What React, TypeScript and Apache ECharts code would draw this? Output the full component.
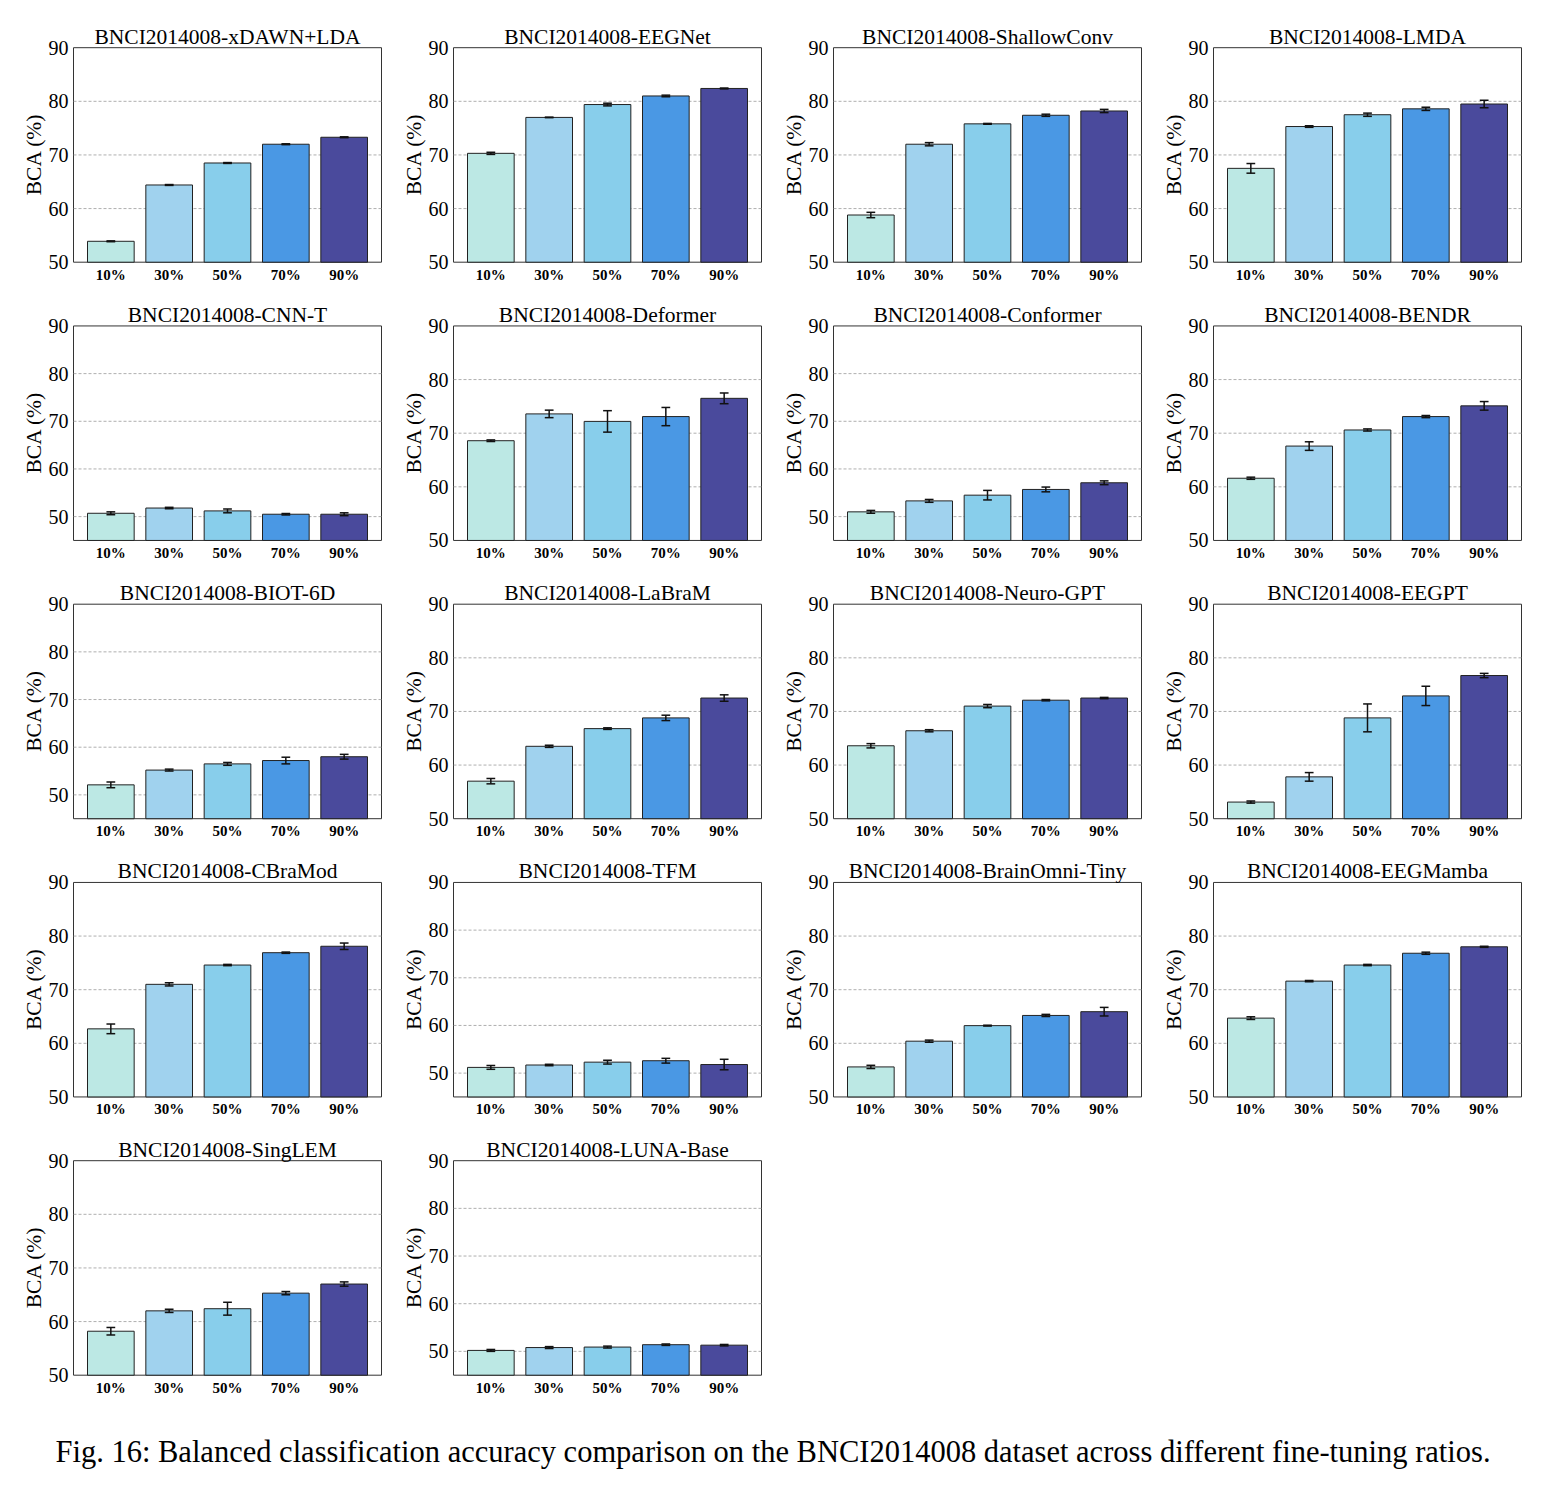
import React, { useEffect, useRef } from "react";
import * as echarts from "echarts";

const CATS = ["10%", "30%", "50%", "70%", "90%"];
const COLORS = ["#bce8e4", "#a0d2ee", "#88ceeb", "#4a98e4", "#4a4a9c"];
const Y_TICKS = [50, 60, 70, 80, 90];
const GRID_LINES = [50, 60, 70, 80];

const TITLES = [
  "BNCI2014008-xDAWN+LDA", "BNCI2014008-EEGNet", "BNCI2014008-ShallowConv", "BNCI2014008-LMDA",
  "BNCI2014008-CNN-T", "BNCI2014008-Deformer", "BNCI2014008-Conformer", "BNCI2014008-BENDR",
  "BNCI2014008-BIOT-6D", "BNCI2014008-LaBraM", "BNCI2014008-Neuro-GPT", "BNCI2014008-EEGPT",
  "BNCI2014008-CBraMod", "BNCI2014008-TFM", "BNCI2014008-BrainOmni-Tiny", "BNCI2014008-EEGMamba",
  "BNCI2014008-SingLEM", "BNCI2014008-LUNA-Base",
];
const Y_MINS = [50, 50, 50, 50, 45, 50, 45, 50, 45, 50, 50, 50, 50, 45, 50, 50, 50, 45];

const xdawnMean = [53.9, 64.4, 68.5, 72.0, 73.3];
const xdawnErr = [0.08, 0.08, 0.08, 0.08, 0.08];
const eegnetMean = [70.3, 77.0, 79.4, 81.0, 82.4];
const eegnetErr = [0.2, 0.05, 0.25, 0.15, 0.08];
const shallowMean = [58.8, 72.0, 75.8, 77.4, 78.2];
const shallowErr = [0.5, 0.3, 0.08, 0.2, 0.3];
const lmdaMean = [67.5, 75.3, 77.5, 78.6, 79.5];
const lmdaErr = [0.9, 0.15, 0.3, 0.3, 0.7];
const cnntMean = [50.7, 51.8, 51.2, 50.5, 50.5];
const cnntErr = [0.3, 0.15, 0.4, 0.15, 0.3];
const deformerMean = [68.6, 73.6, 72.2, 73.1, 76.5];
const deformerErr = [0.15, 0.7, 2.0, 1.7, 1.0];
const conformerMean = [51.0, 53.3, 54.5, 55.7, 57.1];
const conformerErr = [0.3, 0.3, 1.0, 0.5, 0.4];
const bendrMean = [61.6, 67.6, 70.6, 73.1, 75.1];
const bendrErr = [0.2, 0.8, 0.2, 0.2, 0.8];
const biotMean = [52.1, 55.2, 56.5, 57.2, 58.0];
const biotErr = [0.6, 0.2, 0.3, 0.7, 0.5];
const labramMean = [57.0, 63.5, 66.8, 68.8, 72.5];
const labramErr = [0.5, 0.2, 0.15, 0.5, 0.6];
const neurogptMean = [63.6, 66.4, 71.0, 72.1, 72.5];
const neurogptErr = [0.4, 0.2, 0.3, 0.12, 0.12];
const eegptMean = [53.1, 57.8, 68.8, 72.9, 76.7];
const eegptErr = [0.2, 0.8, 2.6, 1.8, 0.4];
const cbramodMean = [62.7, 71.0, 74.6, 76.9, 78.1];
const cbramodErr = [0.9, 0.3, 0.12, 0.12, 0.6];
const tfmMean = [51.2, 51.7, 52.3, 52.6, 51.8];
const tfmErr = [0.4, 0.15, 0.4, 0.5, 1.1];
const brainomniMean = [55.6, 60.4, 63.3, 65.2, 65.9];
const brainomniErr = [0.3, 0.2, 0.08, 0.2, 0.8];
const eegmambaMean = [64.7, 71.6, 74.6, 76.8, 78.0];
const eegmambaErr = [0.25, 0.12, 0.12, 0.2, 0.1];
const singlemMean = [58.2, 62.0, 62.4, 65.3, 67.0];
const singlemErr = [0.7, 0.3, 1.2, 0.3, 0.4];
const lunaMean = [50.2, 50.8, 50.9, 51.4, 51.3];
const lunaErr = [0.2, 0.2, 0.2, 0.15, 0.15];

const MEANS = [
  xdawnMean, eegnetMean, shallowMean, lmdaMean,
  cnntMean, deformerMean, conformerMean, bendrMean,
  biotMean, labramMean, neurogptMean, eegptMean,
  cbramodMean, tfmMean, brainomniMean, eegmambaMean,
  singlemMean, lunaMean,
];
const ERRS = [
  xdawnErr, eegnetErr, shallowErr, lmdaErr,
  cnntErr, deformerErr, conformerErr, bendrErr,
  biotErr, labramErr, neurogptErr, eegptErr,
  cbramodErr, tfmErr, brainomniErr, eegmambaErr,
  singlemErr, lunaErr,
];

const CAPTION =
  "Fig. 16: Balanced classification accuracy comparison on the BNCI2014008 dataset across different fine-tuning ratios.";

const FONT = "'Liberation Serif', 'DejaVu Serif', serif";

const X_MIN = -0.64;
const X_MAX = 4.64;
const BAR_HALF = 0.4;
const CAP_HALF = 0.075;

const W = 1545;
const H = 1485;
const LEFT0 = 73.5;
const TOP0 = 47.7;
const COL_STEP = 380;
const ROW_STEP = 278.25;
const PW = 308;
const PH = 214.5;

export default function App() {
  const ref = useRef<HTMLDivElement>(null);
  useEffect(() => {
    if (!ref.current) return;
    const chart = echarts.init(ref.current, null, { renderer: "svg" });
    const grids: any[] = [];
    const xAxes: any[] = [];
    const yAxes: any[] = [];
    const series: any[] = [];
    const graphics: any[] = [];

    TITLES.forEach((title, k) => {
      const col = k % 4;
      const row = Math.floor(k / 4);
      const left = LEFT0 + col * COL_STEP;
      const top = TOP0 + row * ROW_STEP;
      const ymin = Y_MINS[k];
      grids.push({
        left, top, width: PW, height: PH,
        show: true, borderColor: "#333", borderWidth: 1, backgroundColor: "#fff",
      });
      xAxes.push({
        type: "value", gridIndex: k, min: X_MIN, max: X_MAX,
        axisLine: { show: false }, axisTick: { show: false }, splitLine: { show: false },
        axisLabel: {
          customValues: [0, 1, 2, 3, 4],
          formatter: (v: number) => CATS[Math.round(v)] ?? "",
          fontFamily: FONT, fontWeight: "bold", fontSize: 15, color: "#000", margin: 5,
        },
      });
      yAxes.push({
        type: "value", gridIndex: k, min: ymin, max: 90,
        axisLine: { show: false }, axisTick: { show: false }, splitLine: { show: false },
        axisLabel: {
          customValues: Y_TICKS, fontFamily: FONT, fontSize: 20, color: "#000", margin: 5,
        },
        name: "BCA (%)", nameLocation: "middle", nameGap: 29,
        nameTextStyle: { fontFamily: FONT, fontSize: 21.5, color: "#000" },
      });
      const means = MEANS[k];
      const errs = ERRS[k];
      series.push({
        type: "custom", xAxisIndex: k, yAxisIndex: k, silent: true, clip: false,
        data: means.map((m, i) => [i, m, errs[i]]),
        renderItem: (params: any, api: any) => {
          const i = api.value(0);
          const m = api.value(1);
          const e = api.value(2);
          const children: any[] = [];
          if (params.dataIndex === 0) {
            GRID_LINES.forEach((g) => {
              if (g <= ymin) return;
              const p1 = api.coord([X_MIN, g]);
              const p2 = api.coord([X_MAX, g]);
              children.push({
                type: "line",
                shape: { x1: p1[0], y1: p1[1], x2: p2[0], y2: p2[1] },
                style: { stroke: "#9a9a9a", lineWidth: 0.8, lineDash: [3, 2] },
              });
            });
          }
          const tl = api.coord([i - BAR_HALF, m]);
          const br = api.coord([i + BAR_HALF, ymin]);
          children.push({
            type: "rect",
            shape: { x: tl[0], y: tl[1], width: br[0] - tl[0], height: br[1] - tl[1] },
            style: { fill: COLORS[i], stroke: "#222", lineWidth: 1 },
          });
          const c = api.coord([i, m]);
          const lo = api.coord([i, m - e]);
          const hi = api.coord([i, m + e]);
          const cl = api.coord([i - CAP_HALF, m]);
          const cr = api.coord([i + CAP_HALF, m]);
          children.push({
            type: "line",
            shape: { x1: c[0], y1: lo[1], x2: c[0], y2: hi[1] },
            style: { stroke: "#111", lineWidth: 1.5 },
          });
          children.push({
            type: "line",
            shape: { x1: cl[0], y1: lo[1], x2: cr[0], y2: lo[1] },
            style: { stroke: "#111", lineWidth: 1.5 },
          });
          children.push({
            type: "line",
            shape: { x1: cl[0], y1: hi[1], x2: cr[0], y2: hi[1] },
            style: { stroke: "#111", lineWidth: 1.5 },
          });
          return { type: "group", children };
        },
      });
      graphics.push({
        type: "text",
        x: left + PW / 2,
        y: top - 11,
        style: {
          text: title,
          fill: "#000",
          font: `21.5px ${FONT}`,
          textAlign: "center",
          textVerticalAlign: "middle",
          align: "center",
          verticalAlign: "middle",
        },
      });
    });

    graphics.push({
      type: "text",
      x: 773,
      y: 1452,
      style: {
        text: CAPTION,
        fill: "#000",
        font: `30.5px ${FONT}`,
        textAlign: "center",
        textVerticalAlign: "middle",
        align: "center",
        verticalAlign: "middle",
      },
    });

    chart.setOption({
      animation: false,
      backgroundColor: "#fff",
      grid: grids,
      xAxis: xAxes,
      yAxis: yAxes,
      series,
      graphic: graphics,
    });
    return () => chart.dispose();
  }, []);
  return (
    <div
      ref={ref}
      style={{ position: "absolute", left: 0, top: 0, width: W, height: H }}
    />
  );
}
